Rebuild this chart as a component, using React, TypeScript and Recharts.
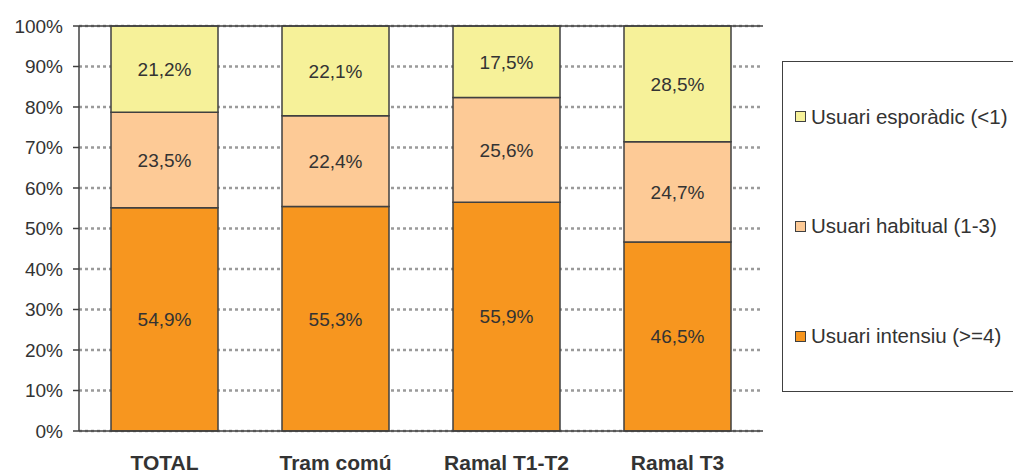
import { Bar, BarChart, CartesianGrid, LabelList, ReferenceLine, XAxis, YAxis } from 'recharts'

const categories = ['TOTAL', 'Tram comú', 'Ramal T1-T2', 'Ramal T3']
const intensiu = [54.9, 55.3, 55.9, 46.5]
const habitual = [23.5, 22.4, 25.6, 24.7]
const esporadic = [21.2, 22.1, 17.5, 28.5]
const yTicks = [0, 0.1, 0.2, 0.3, 0.4, 0.5, 0.6, 0.7, 0.8, 0.9, 1]

const series = [
  { key: 'intensiu', name: 'Usuari intensiu (>=4)', fill: '#f7961f' },
  { key: 'habitual', name: 'Usuari habitual (1-3)', fill: '#fdca96' },
  { key: 'esporadic', name: 'Usuari esporàdic (<1)', fill: '#f6f199' },
]

const data = categories.map((name, i) => ({
  name,
  intensiu: intensiu[i],
  habitual: habitual[i],
  esporadic: esporadic[i],
}))

const font = 'Liberation Sans, Arial, sans-serif'
const ink = '#333333'
const edge = '#404040'

function fmt(v: unknown) {
  return `${Number(v).toFixed(1).replace('.', ',')}%`
}

function LegendBox() {
  const items = [...series].reverse()
  return (
    <div
      style={{
        position: 'absolute',
        left: 782,
        top: 61,
        boxSizing: 'border-box',
        width: 260,
        height: 331,
        border: `1.5px solid ${edge}`,
        display: 'flex',
        flexDirection: 'column',
        justifyContent: 'space-around',
        fontFamily: font,
        fontSize: 20.5,
        color: ink,
      }}
    >
      {items.map((s) => (
        <div key={s.key} style={{ display: 'flex', alignItems: 'center', paddingLeft: 12 }}>
          <span
            style={{
              display: 'inline-block',
              width: 9,
              height: 9,
              background: s.fill,
              border: `1.5px solid ${edge}`,
              marginRight: 5,
            }}
          />
          <span>{s.name}</span>
        </div>
      ))}
    </div>
  )
}

export default function App() {
  return (
    <div style={{ position: 'absolute', left: 0, top: 0, width: 1013, height: 473, overflow: 'hidden', background: '#fff' }}>
      <BarChart
        width={1013}
        height={473}
        data={data}
        stackOffset="expand"
        margin={{ top: 26, right: 250, bottom: 0, left: 19 }}
      >
        <CartesianGrid vertical={false} stroke="#9a9a9a" strokeWidth={2.5} strokeDasharray="3 3" />
        <XAxis
          dataKey="name"
          height={42}
          tickLine={false}
          tickMargin={18}
          axisLine={{ stroke: edge, strokeWidth: 1.5 }}
          tick={{ fill: ink, fontFamily: font, fontSize: 21, fontWeight: 'bold' }}
        />
        <YAxis
          width={60}
          domain={[0, 1]}
          ticks={yTicks}
          interval={0}
          tickFormatter={(v) => `${Math.round(v * 100)}%`}
          tickSize={6}
          tickMargin={10}
          axisLine={{ stroke: edge, strokeWidth: 1.5 }}
          tickLine={{ stroke: edge, strokeWidth: 1.5 }}
          tick={{ fill: ink, fontFamily: font, fontSize: 19 }}
        />
        <YAxis yAxisId="right" orientation="right" width={0} tick={false} tickLine={false} axisLine={{ stroke: edge, strokeWidth: 1.5 }} />
        <ReferenceLine y={1} stroke={edge} strokeWidth={1.5} />
        {series.map((s) => (
          <Bar
            key={s.key}
            dataKey={s.key}
            name={s.name}
            stackId="a"
            fill={s.fill}
            stroke={edge}
            strokeWidth={1.5}
            barSize={107}
            isAnimationActive={false}
          >
            <LabelList dataKey={s.key} position="center" formatter={fmt} fill={ink} fontFamily={font} fontSize={19} />
          </Bar>
        ))}
      </BarChart>
      <LegendBox />
    </div>
  )
}
